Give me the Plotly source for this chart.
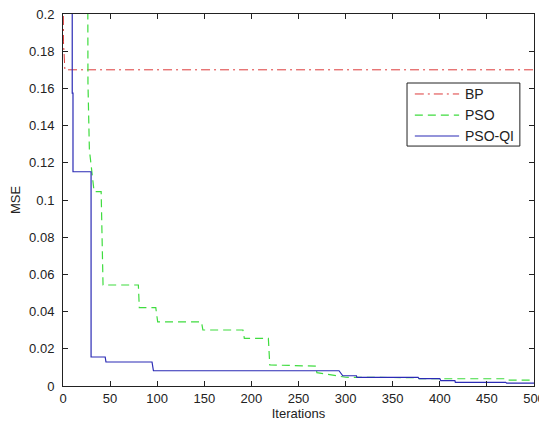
import plotly.graph_objects as go

# BP series (breakpoints)
bp_x = [0, 0.5, 2, 500]
bp_y = [0.25, 0.185, 0.17, 0.17]

# PSO series
pso_x = [0, 26, 26.5, 28, 33, 40.5, 42.5, 80, 81, 98.5, 100.5, 147, 148.5, 191, 192.5, 218, 219.5,
         268.5, 269.5, 296, 300, 377, 378, 470, 471, 500]
pso_y = [0.3, 0.3, 0.163, 0.127, 0.1045, 0.1045, 0.0543, 0.0543, 0.0421, 0.0421, 0.0345, 0.0345, 0.0301, 0.0301, 0.0256,
         0.0256, 0.0113, 0.0107, 0.0072, 0.0050, 0.0047, 0.0045, 0.0039, 0.0039, 0.0032, 0.0032]

# PSO-QI series
qi_x = [0, 9.8, 9.8, 10.6, 10.6, 29.8, 29.8, 44.8, 45.6, 94.5, 96, 293, 297, 311.5, 312, 377, 378, 400, 401,
        416, 416.5, 470, 471, 500]
qi_y = [0.25, 0.25, 0.1575, 0.1575, 0.1152, 0.1152, 0.0156, 0.0156, 0.0129, 0.0129, 0.0082, 0.0082, 0.0055,
        0.0055, 0.0046, 0.0046, 0.0040, 0.0040, 0.0029, 0.0029, 0.0020, 0.0020, 0.0015, 0.0015]

series_names = ["BP", "PSO", "PSO-QI"]
x_ticks = [0, 50, 100, 150, 200, 250, 300, 350, 400, 450, 500]
y_ticks = [0, 0.02, 0.04, 0.06, 0.08, 0.1, 0.12, 0.14, 0.16, 0.18, 0.2]
y_tick_text = ["0", "0.02", "0.04", "0.06", "0.08", "0.1", "0.12", "0.14", "0.16", "0.18", "0.2"]

colors = ["#dd3b3b", "#3fdc3f", "#2b2bb5"]
dashes = ["9px,4px,2px,4px", "8px,5px", "solid"]
widths = [1, 1.2, 1.2]

fig = go.Figure()
for xs, ys, nm, c, d, w in zip([bp_x, pso_x, qi_x], [bp_y, pso_y, qi_y], series_names, colors, dashes, widths):
    fig.add_trace(go.Scatter(x=xs, y=ys, mode="lines", name=nm,
                             line=dict(color=c, width=w, dash=d), showlegend=False))

FAM = "Liberation Sans, Arial, sans-serif"
font_main = dict(family=FAM, size=13, color="#222222")
font_tick = dict(family=FAM, size=13, color="#222222")

axis_common = dict(showgrid=False, zeroline=False, showline=True, linecolor="#222222", linewidth=1,
                   mirror="ticks", ticks="inside", ticklen=5, tickcolor="#222222", tickfont=font_tick,
                   automargin=False, ticklabeloverflow="allow")

# manual legend box (MATLAB style)
shapes = [dict(type="rect", xref="paper", yref="paper", x0=0.7304, x1=0.970, y0=0.645, y1=0.8145,
               line=dict(color="#222222", width=1), fillcolor="white", layer="above")]
annotations = []
leg_y = [0.785, 0.728, 0.672]
for nm, c, d, w, yy in zip(series_names, colors, dashes, widths, leg_y):
    shapes.append(dict(type="line", xref="paper", yref="paper", x0=0.747, x1=0.841, y0=yy, y1=yy,
                       line=dict(color=c, width=w, dash=d), layer="above"))
    annotations.append(dict(xref="paper", yref="paper", x=0.849, y=yy, text=nm, showarrow=False,
                            xanchor="left", yanchor="middle", font=dict(family=FAM, size=14, color="#222222")))

# page body has an 8px margin, so the figure is sized/offset to compensate
fig.update_layout(
    width=539, height=418,
    margin=dict(l=55, r=13, t=6, b=40),
    paper_bgcolor="white", plot_bgcolor="white",
    font=font_main,
    xaxis=dict(range=[0, 500], tickvals=x_ticks, ticktext=[str(v) for v in x_ticks],
               title=dict(text="Iterations", font=font_main, standoff=4), **axis_common),
    yaxis=dict(range=[0, 0.2], tickvals=y_ticks, ticktext=y_tick_text, ticklabelstandoff=5,
               title=dict(text="MSE", font=font_main, standoff=8), **axis_common),
    shapes=shapes,
    annotations=annotations,
    showlegend=False,
)

fig.write_html("out.html")
